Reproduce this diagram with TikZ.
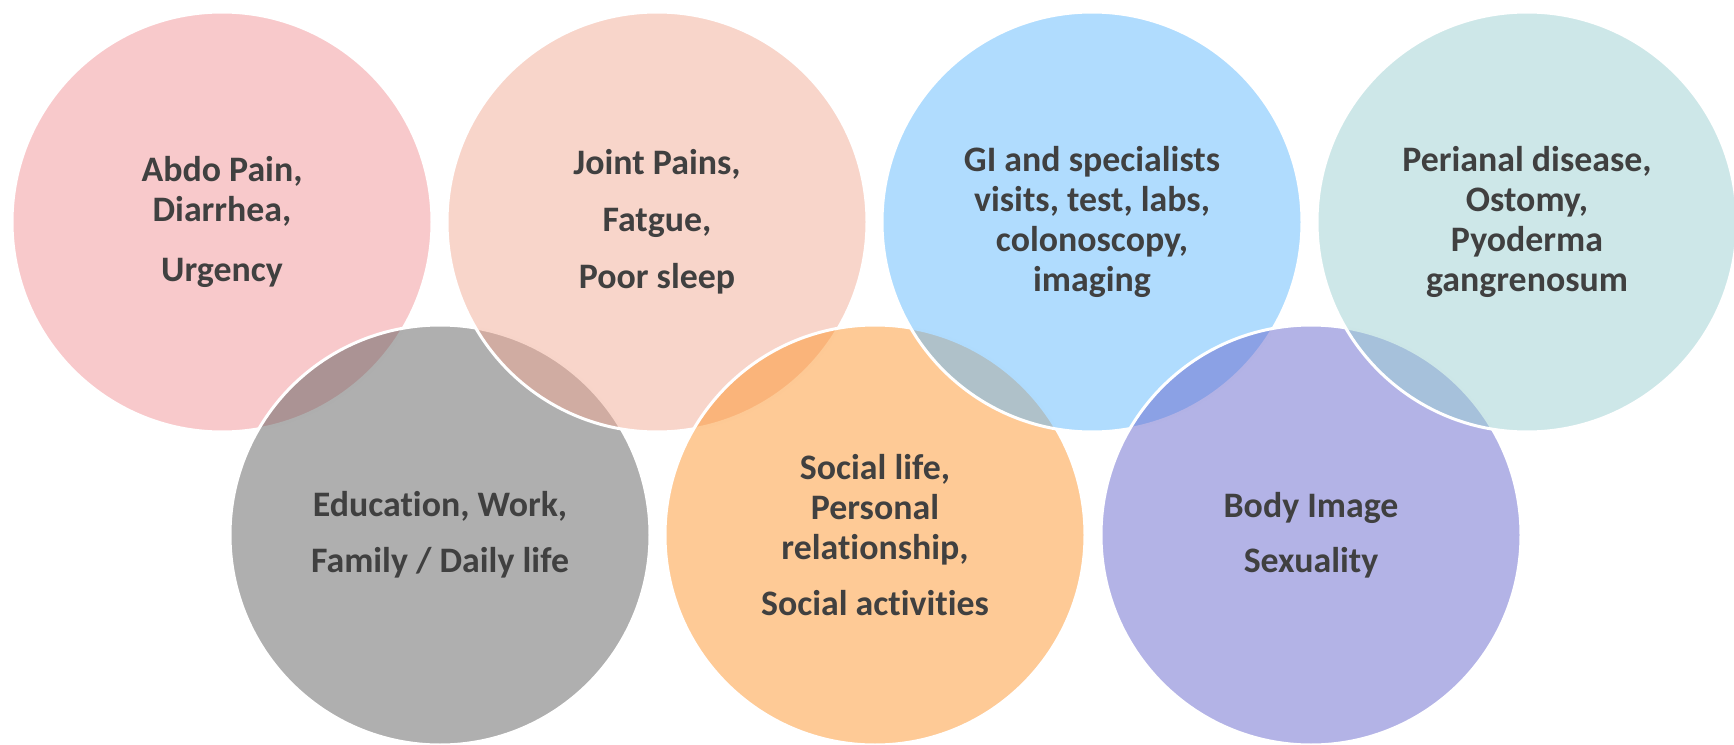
\documentclass[tikz,border=0pt]{standalone}
\usepackage{fontspec}
\setmainfont{Carlito}[Ligatures=NoCommon]
\usetikzlibrary{positioning}
\definecolor{cPink}{RGB}{241,147,151}
\definecolor{cPeach}{RGB}{241,171,149}
\definecolor{cBlue}{RGB}{97,185,253}
\definecolor{cTeal}{RGB}{155,207,209}
\definecolor{cGray}{RGB}{95,95,95}
\definecolor{cOrange}{RGB}{253,149,45}
\definecolor{cPurple}{RGB}{103,103,205}
\definecolor{txt}{RGB}{64,64,64}
\tikzset{
  bubble/.style = {circle, draw=white, line width=0.3mm, fill opacity=0.5, text opacity=1,
                   minimum size=42mm, inner sep=0, align=center, text=txt,
                   font=\bfseries\fontsize{10.2}{11.4}\selectfont}
}

\begin{document}
\begin{tikzpicture}
  \useasboundingbox (0,0) rectangle (17.34,7.44);
  % drawn in zig-zag order, each one over the last
  \node[bubble, fill=cPink]   (abdo)   at ( 2.22,5.22) {Abdo Pain,\\Diarrhea,\\[2mm]Urgency};
  \node[bubble, fill=cGray]   (work)   at ( 4.40,2.09) {Education, Work,\\[1.6mm]Family / Daily life};
  \node[bubble, fill=cPeach]  (joint)  at ( 6.57,5.22) {Joint Pains,\\[1.7mm]Fatgue,\\[1.7mm]Poor sleep};
  \node[bubble, fill=cOrange] (social) at ( 8.75,2.09) {Social life,\\Personal\\relationship,\\[1.5mm]Social activities};
  \node[bubble, fill=cBlue]   (visits) at (10.92,5.22) {GI and specialists\\visits, test, labs,\\colonoscopy,\\imaging};
  \node[bubble, fill=cPurple] (body)   at (13.11,2.09) {Body Image\\[1.5mm]Sexuality};
  \node[bubble, fill=cTeal]   (peri)   at (15.27,5.22) {Perianal disease,\\Ostomy,\\Pyoderma\\gangrenosum};
\end{tikzpicture}
\end{document}
